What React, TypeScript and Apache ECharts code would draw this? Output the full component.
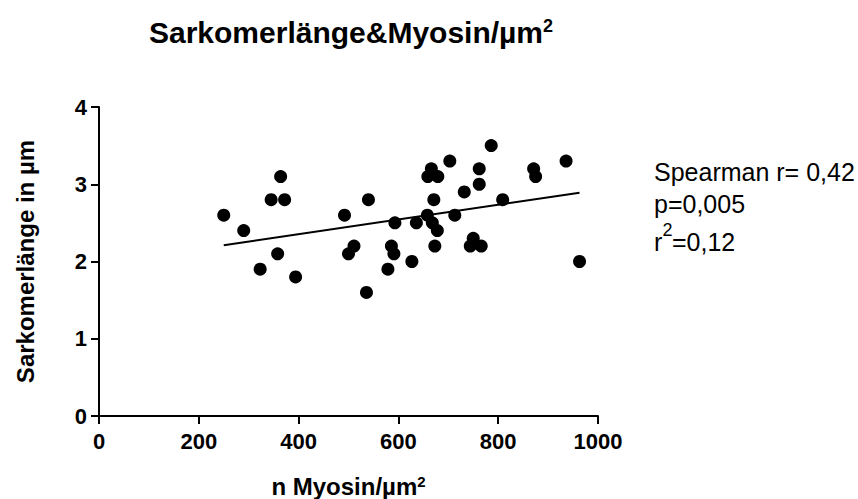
import React, { useEffect, useRef } from "react";
import * as echarts from "echarts";

const xValues = [250, 290, 345, 372, 364, 358, 323, 394, 492, 500, 511, 540, 536, 579, 586, 591, 593, 627, 636, 658, 659, 666, 668, 671, 673, 678, 679, 703, 713, 732, 744, 750, 762, 762, 766, 786, 809, 871, 875, 936, 963];
const yValues = [2.6, 2.4, 2.8, 2.8, 3.1, 2.1, 1.9, 1.8, 2.6, 2.1, 2.2, 2.8, 1.6, 1.9, 2.2, 2.1, 2.5, 2.0, 2.5, 2.6, 3.1, 3.2, 2.5, 2.8, 2.2, 2.4, 3.1, 3.3, 2.6, 2.9, 2.2, 2.3, 3.2, 3.0, 2.2, 3.5, 2.8, 3.2, 3.1, 3.3, 2.0];
const fitX = [250, 963];
const fitY = [2.21, 2.89];
const xTicks = [0, 200, 400, 600, 800, 1000];
const yTicks = [0, 1, 2, 3, 4];
const statsLines = ["Spearman r= 0,42", "p=0,005", "r", "2", "=0,12"];

const FONT = "Liberation Sans, Arial, sans-serif";

export default function App() {
  const ref = useRef<HTMLDivElement>(null);
  useEffect(() => {
    document.body.style.margin = "0";
    const chart = echarts.init(ref.current!, null, { renderer: "svg" });
    const points = xValues.map((x, i) => [x, yValues[i]]);
    const fit = fitX.map((x, i) => [x, fitY[i]]);
    chart.setOption({
      animation: false,
      backgroundColor: "#ffffff",
      grid: { left: 99, right: 260, top: 107, bottom: 83, outerBoundsMode: "none", containLabel: false },
      xAxis: {
        type: "value",
        min: xTicks[0],
        max: xTicks[xTicks.length - 1],
        interval: 200,
        name: "n Myosin/µm{sup|2}",
        nameLocation: "middle",
        nameGap: 58,
        nameTextStyle: {
          fontFamily: FONT,
          fontWeight: "bold",
          fontSize: 24,
          color: "#000",
          rich: {
            sup: { fontSize: 15, fontWeight: "bold", fontFamily: FONT, verticalAlign: "top", color: "#000" },
          },
        },
        axisLine: { show: true, onZero: false, lineStyle: { color: "#000", width: 2 } },
        axisTick: { show: true, length: 8, lineStyle: { color: "#000", width: 2 } },
        axisLabel: {
          fontFamily: FONT,
          fontWeight: "bold",
          fontSize: 22,
          color: "#000",
          margin: 14,
          formatter: (v: number) => String(v),
        },
        splitLine: { show: false },
      },
      yAxis: {
        type: "value",
        min: yTicks[0],
        max: yTicks[yTicks.length - 1],
        interval: 1,
        name: "Sarkomerlänge in µm",
        nameLocation: "middle",
        nameGap: 62,
        nameTextStyle: { fontFamily: FONT, fontWeight: "bold", fontSize: 24, color: "#000" },
        axisLine: { show: true, onZero: false, lineStyle: { color: "#000", width: 2 } },
        axisTick: { show: true, length: 8, lineStyle: { color: "#000", width: 2 } },
        axisLabel: {
          fontFamily: FONT,
          fontWeight: "bold",
          fontSize: 22,
          color: "#000",
          margin: 12,
          formatter: (v: number) => String(v),
        },
        splitLine: { show: false },
      },
      series: [
        {
          type: "scatter",
          data: points,
          symbol: "circle",
          symbolSize: 13,
          itemStyle: { color: "#000", opacity: 1 },
        },
        {
          type: "line",
          data: fit,
          symbol: "none",
          lineStyle: { color: "#000", width: 2, opacity: 1 },
        },
      ],
      graphic: [
        {
          type: "text",
          x: 351,
          y: 32,
          style: {
            text: "{a|Sarkomerlänge&Myosin/µm}{sup|2}",
            align: "center",
            verticalAlign: "middle",
            rich: {
              a: { fontFamily: FONT, fontWeight: "bold", fontSize: 30, fill: "#000" },
              sup: { fontFamily: FONT, fontWeight: "bold", fontSize: 18, fill: "#000", verticalAlign: "top" },
            },
          },
        },
        {
          type: "text",
          x: 654,
          y: 172,
          style: { text: statsLines[0], fontFamily: FONT, fontSize: 25, fill: "#000", verticalAlign: "middle" },
        },
        {
          type: "text",
          x: 654,
          y: 204,
          style: { text: statsLines[1], fontFamily: FONT, fontSize: 25, fill: "#000", verticalAlign: "middle" },
        },
        {
          type: "text",
          x: 654,
          y: 242,
          style: { text: statsLines[2], fontFamily: FONT, fontSize: 25, fill: "#000", verticalAlign: "middle" },
        },
        {
          type: "text",
          x: 662.5,
          y: 221,
          style: { text: statsLines[3], fontFamily: FONT, fontSize: 18, fill: "#000", verticalAlign: "top" },
        },
        {
          type: "text",
          x: 672,
          y: 242,
          style: { text: statsLines[4], fontFamily: FONT, fontSize: 25, fill: "#000", verticalAlign: "middle" },
        },
      ],
    });
    return () => chart.dispose();
  }, []);
  return <div ref={ref} style={{ width: 858, height: 499 }} />;
}
